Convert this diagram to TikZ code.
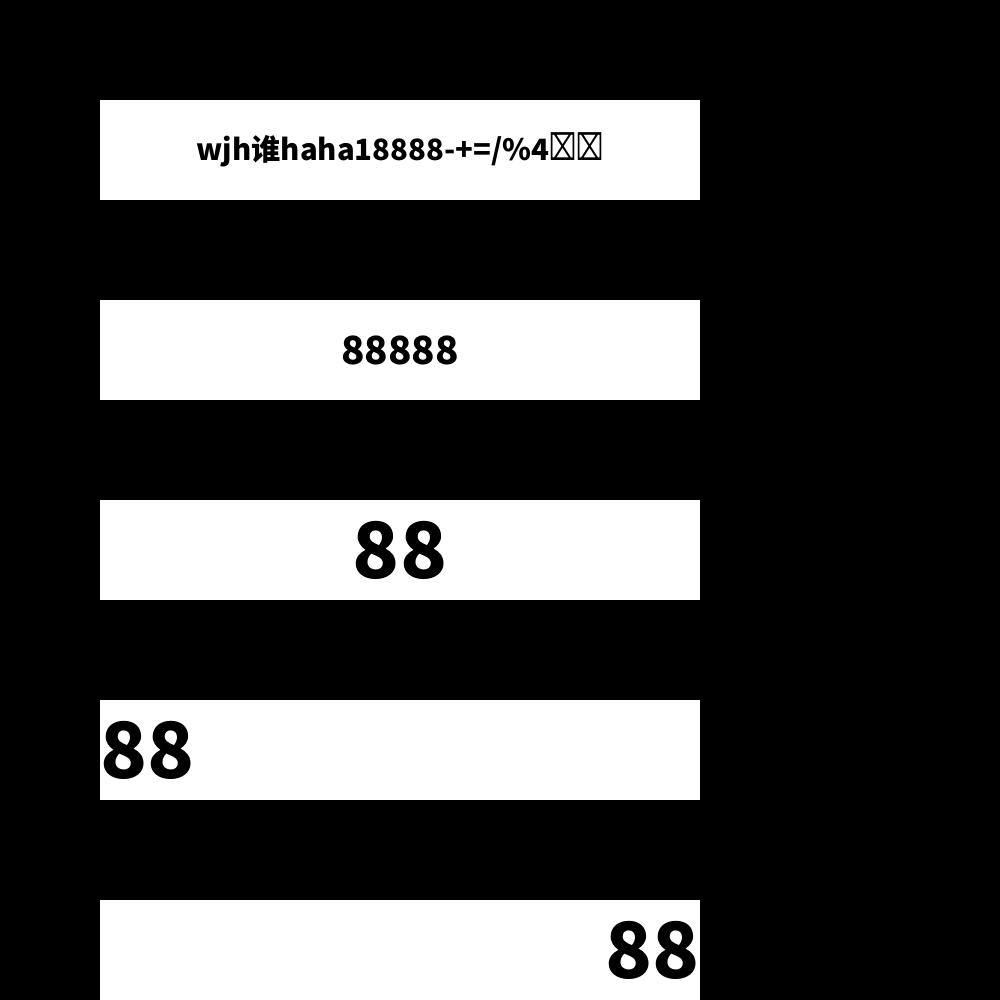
\documentclass[tikz,border=0pt]{standalone}
\usepackage{graphicx}
\usepackage{fontspec}
\setmainfont{Noto Sans CJK SC}
\newfontfamily\symfont{DejaVu Sans}
\newcommand\tofu{{\mdseries\symfont\scalebox{0.8}[1.25]{⌧}}}
\begin{document}
\begin{tikzpicture}[box/.style={fill=white,minimum width=6cm,minimum height=1cm,inner sep=0pt,font=\bfseries}]
\fill[black] (0,0) rectangle (10,10);
\node[box,font=\bfseries\fontsize{8.35pt}{12pt}\selectfont] (b1) at (4,8.5) {wjh谁haha18888-+=/\%4\tofu\tofu};
\node[box,font=\bfseries\fontsize{11pt}{14pt}\selectfont] (b2) at (4,6.5) {88888};
\node[box,font=\bfseries\fontsize{22pt}{28pt}\selectfont] (b3) at (4,4.5) {88};
\node[box] (b4) at (4,2.5) {};
\node[anchor=west,inner sep=0pt,font=\bfseries\fontsize{22pt}{28pt}\selectfont] (t4) at (b4.west) {88};
\node[box] (b5) at (4,0.5) {};
\node[anchor=east,inner sep=0pt,font=\bfseries\fontsize{22pt}{28pt}\selectfont] (t5) at (b5.east) {88};
\end{tikzpicture}
\end{document}
